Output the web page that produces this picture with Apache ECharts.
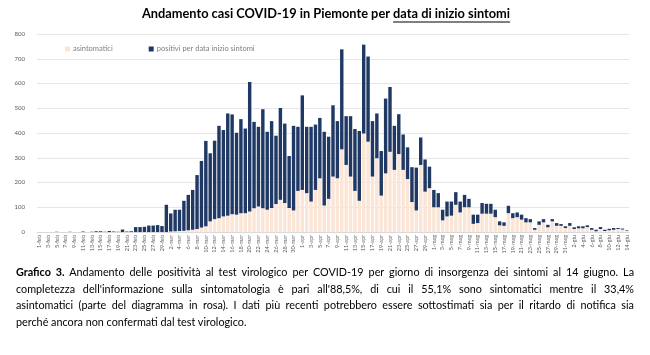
<!DOCTYPE html>
<html>
<head>
<meta charset="utf-8">
<script src="https://cdn.jsdelivr.net/npm/echarts@6/dist/echarts.min.js"></script>
<style>
  html, body { margin: 0; padding: 0; background: #fff; }
  #chart { position: absolute; left: 0; top: 0; width: 650px; height: 355px; }
  #caption {
    position: absolute; left: 16px; top: 264px; width: 618px;
    font-family: Lato, "Open Sans", sans-serif; font-size: 10.8px; line-height: 16.7px;
    color: #000;
  }
  #caption div { text-align: justify; text-align-last: justify; white-space: nowrap; }
  #caption div.last { text-align-last: left; }
</style>
</head>
<body>
<div id="chart"></div>
<div id="caption">
  <div><b>Grafico 3.</b> Andamento delle positività al test virologico per COVID-19 per giorno di insorgenza dei sintomi al 14 giugno. La</div>
  <div>completezza dell'informazione sulla sintomatologia è pari all'88,5%, di cui il 55,1% sono sintomatici mentre il 33,4%</div>
  <div>asintomatici (parte del diagramma in rosa). I dati più recenti potrebbero essere sottostimati sia per il ritardo di notifica sia</div>
  <div class="last">perché ancora non confermati dal test virologico.</div>
</div>
<script>
const categories = [
  "1-feb","2-feb","3-feb","4-feb","5-feb","6-feb","7-feb","8-feb","9-feb","10-feb",
  "11-feb","12-feb","13-feb","14-feb","15-feb","16-feb","17-feb","18-feb","19-feb","20-feb",
  "21-feb","22-feb","23-feb","24-feb","25-feb","26-feb","27-feb","28-feb","29-feb",
  "1-mar","2-mar","3-mar","4-mar","5-mar","6-mar","7-mar","8-mar","9-mar","10-mar",
  "11-mar","12-mar","13-mar","14-mar","15-mar","16-mar","17-mar","18-mar","19-mar","20-mar",
  "21-mar","22-mar","23-mar","24-mar","25-mar","26-mar","27-mar","28-mar","29-mar","30-mar","31-mar",
  "1-apr","2-apr","3-apr","4-apr","5-apr","6-apr","7-apr","8-apr","9-apr","10-apr",
  "11-apr","12-apr","13-apr","14-apr","15-apr","16-apr","17-apr","18-apr","19-apr","20-apr",
  "21-apr","22-apr","23-apr","24-apr","25-apr","26-apr","27-apr","28-apr","29-apr","30-apr",
  "1-mag","2-mag","3-mag","4-mag","5-mag","6-mag","7-mag","8-mag","9-mag","10-mag",
  "11-mag","12-mag","13-mag","14-mag","15-mag","16-mag","17-mag","18-mag","19-mag","20-mag",
  "21-mag","22-mag","23-mag","24-mag","25-mag","26-mag","27-mag","28-mag","29-mag","30-mag","31-mag",
  "1-giu","2-giu","3-giu","4-giu","5-giu","6-giu","7-giu","8-giu","9-giu","10-giu",
  "11-giu","12-giu","13-giu","14-giu"
];

const asintomatici = [
  0,0,0,0,0,0,0,0,0,0, 0,0,0,0,0,0,0,0,0,0, 0,0,0,0,0,0,0,0,0,
  0,2,3,4,5,7,9,12,18,23, 43,52,56,63,66,72,70,76,76,83, 96,103,96,90,97,113,130,117,97,87,166,
  170,157,123,170,217,107,134,224,217,334, 271,224,166,126,398,365,224,298,147,237,
  324,251,315,251,214,121,87,271,163,177,
  100,100,47,63,66,110,79,100,100,33, 36,74,74,74,60,27,25,76,56,60,
  50,39,39,9,29,39,19,43,25,25,16,
  25,12,15,15,20,9,3,12,4,7, 9,12,10,6
];

const positivi = [
  0,0,0,0,1,0,0,1,0,0, 2,0,1,3,3,1,4,2,1,10, 2,3,20,20,21,26,26,28,24,
  110,73,87,86,121,143,161,218,269,345, 275,317,373,349,413,403,331,380,342,523, 349,322,400,315,351,276,371,321,210,342,259,
  382,268,302,264,244,298,251,288,231,404, 197,244,250,282,359,344,224,181,180,302,
  262,178,161,143,128,141,173,111,130,87,
  70,57,43,60,57,51,44,50,34,37, 34,43,40,40,30,16,14,30,20,19,
  20,17,13,7,14,13,10,9,11,7,7,
  11,7,8,8,7,7,6,8,5,6, 7,4,4,2
];

const yTicks = { min: 0, max: 800, interval: 100 };

const titlePart1 = "Andamento casi COVID-19 in Piemonte per ";
const titlePart2 = "data di inizio sintomi";

const chart = echarts.init(document.getElementById('chart'), null, { renderer: 'canvas' });

const titleFont = 'bold 12.8px Lato, "Open Sans", sans-serif';
const mctx = document.createElement('canvas').getContext('2d');
mctx.font = titleFont;
const w1 = mctx.measureText(titlePart1).width;
const w2 = mctx.measureText(titlePart2).width;
const tx0 = 326 - (w1 + w2) / 2;
const ty = 7;

chart.setOption({
  animation: false,
  backgroundColor: '#ffffff',
  textStyle: { fontFamily: 'Lato, "Open Sans", sans-serif' },
  graphic: [
    { type: 'text', x: tx0, y: ty, style: { text: titlePart1, font: titleFont, fill: '#000' } },
    { type: 'text', x: tx0 + w1, y: ty, style: { text: titlePart2, font: titleFont, fill: '#000' } },
    { type: 'line', shape: { x1: tx0 + w1, y1: ty + 15, x2: tx0 + w1 + w2, y2: ty + 15 },
      style: { stroke: '#000', lineWidth: 1 } }
  ],
  legend: {
    left: 60, top: 40,
    itemWidth: 5, itemHeight: 5, itemGap: 36,
    icon: 'rect',
    textStyle: { fontSize: 7.5, color: '#7f7f7f', padding: [0, 0, 0, -2] },
    data: ['asintomatici', 'positivi per data inizio sintomi']
  },
  grid: { left: 37, right: 21, top: 34, bottom: 123, containLabel: false },
  xAxis: {
    type: 'category',
    data: categories,
    axisLine: { lineStyle: { color: '#d9d9d9' } },
    axisTick: { show: false },
    axisLabel: { rotate: 90, interval: 1, fontSize: 5.5, color: '#595959', margin: 3 }
  },
  yAxis: {
    type: 'value',
    min: yTicks.min, max: yTicks.max, interval: yTicks.interval,
    axisLine: { show: false },
    axisTick: { show: false },
    axisLabel: { fontSize: 6, color: '#595959', margin: 12 },
    splitLine: { lineStyle: { color: '#e6e6e6', width: 1 } }
  },
  series: [
    {
      name: 'asintomatici', type: 'bar', stack: 'tot',
      data: asintomatici, barCategoryGap: '22%',
      itemStyle: { color: '#fbe5d6' }
    },
    {
      name: 'positivi per data inizio sintomi', type: 'bar', stack: 'tot',
      data: positivi,
      itemStyle: { color: '#1f3864' }
    }
  ]
});
</script>
</body>
</html>
